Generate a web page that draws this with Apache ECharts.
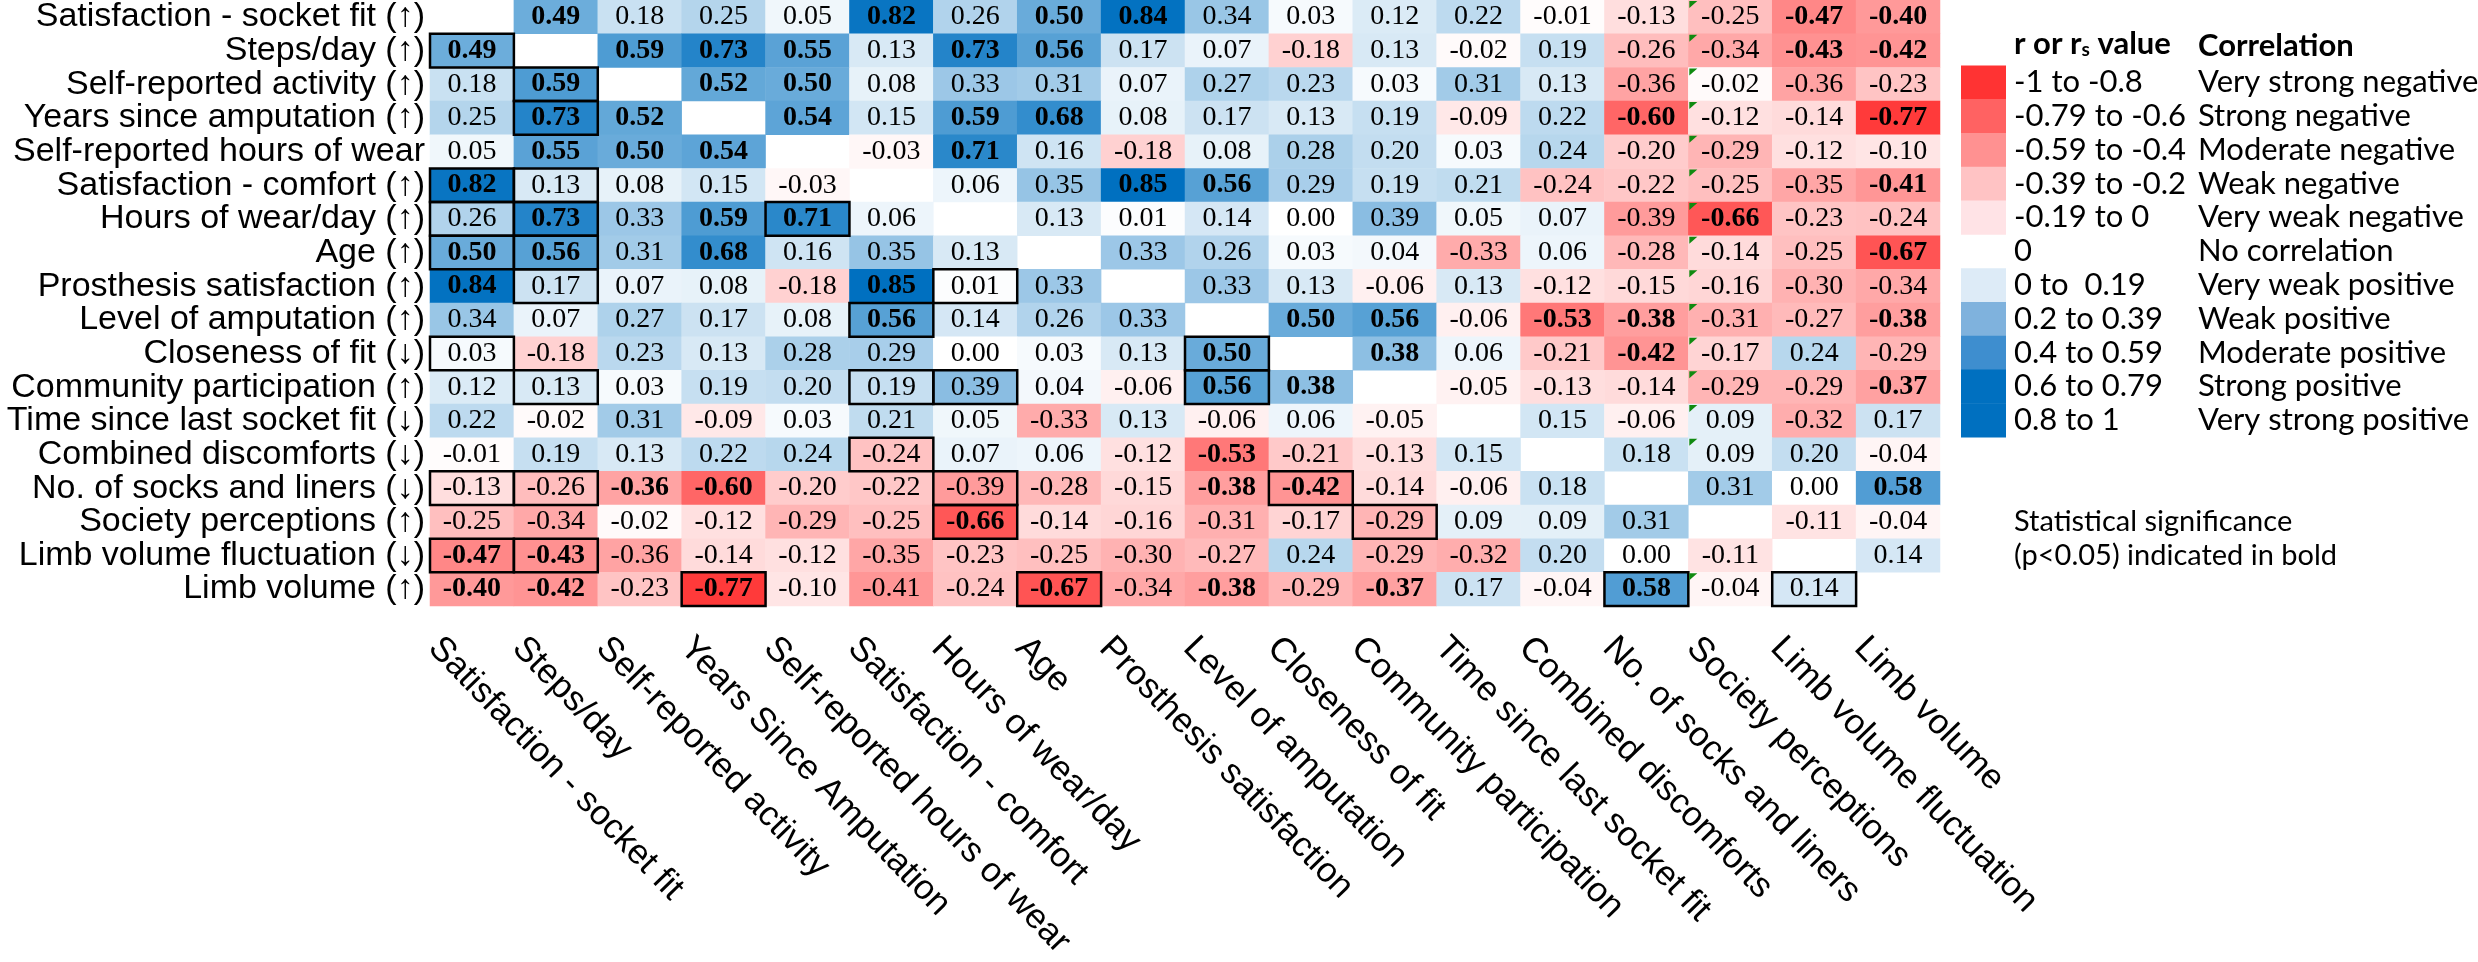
<!DOCTYPE html>
<html><head><meta charset="utf-8">
<script src="https://cdn.jsdelivr.net/npm/echarts@6/dist/echarts.min.js"></script>
<style>html,body{margin:0;padding:0;background:#fff}#chart{width:2478px;height:962px}</style>
</head><body><div id="chart"></div>
<script>
const rowLabels = [
  'Satisfaction - socket fit (↑)', 'Steps/day (↑)', 'Self-reported activity (↑)', 'Years since amputation (↑)',
  'Self-reported hours of wear', 'Satisfaction - comfort (↑)', 'Hours of wear/day (↑)', 'Age (↑)',
  'Prosthesis satisfaction (↑)', 'Level of amputation (↑)', 'Closeness of fit (↓)', 'Community participation (↑)',
  'Time since last socket fit (↓)', 'Combined discomforts (↓)', 'No. of socks and liners (↓)', 'Society perceptions (↑)',
  'Limb volume fluctuation (↓)', 'Limb volume (↑)'
];
const colLabels = [
  'Satisfaction - socket fit', 'Steps/day', 'Self-reported activity', 'Years Since Amputation',
  'Self-reported hours of wear', 'Satisfaction - comfort', 'Hours of wear/day', 'Age',
  'Prosthesis satisfaction', 'Level of amputation', 'Closeness of fit', 'Community participation',
  'Time since last socket fit', 'Combined discomforts', 'No. of socks and liners', 'Society perceptions',
  'Limb volume fluctuation', 'Limb volume'
];
const corr = [
  [null, 0.49, 0.18, 0.25, 0.05, 0.82, 0.26, 0.50, 0.84, 0.34, 0.03, 0.12, 0.22, -0.01, -0.13, -0.25, -0.47, -0.40],
  [0.49, null, 0.59, 0.73, 0.55, 0.13, 0.73, 0.56, 0.17, 0.07, -0.18, 0.13, -0.02, 0.19, -0.26, -0.34, -0.43, -0.42],
  [0.18, 0.59, null, 0.52, 0.50, 0.08, 0.33, 0.31, 0.07, 0.27, 0.23, 0.03, 0.31, 0.13, -0.36, -0.02, -0.36, -0.23],
  [0.25, 0.73, 0.52, null, 0.54, 0.15, 0.59, 0.68, 0.08, 0.17, 0.13, 0.19, -0.09, 0.22, -0.60, -0.12, -0.14, -0.77],
  [0.05, 0.55, 0.50, 0.54, null, -0.03, 0.71, 0.16, -0.18, 0.08, 0.28, 0.20, 0.03, 0.24, -0.20, -0.29, -0.12, -0.10],
  [0.82, 0.13, 0.08, 0.15, -0.03, null, 0.06, 0.35, 0.85, 0.56, 0.29, 0.19, 0.21, -0.24, -0.22, -0.25, -0.35, -0.41],
  [0.26, 0.73, 0.33, 0.59, 0.71, 0.06, null, 0.13, 0.01, 0.14, 0.00, 0.39, 0.05, 0.07, -0.39, -0.66, -0.23, -0.24],
  [0.50, 0.56, 0.31, 0.68, 0.16, 0.35, 0.13, null, 0.33, 0.26, 0.03, 0.04, -0.33, 0.06, -0.28, -0.14, -0.25, -0.67],
  [0.84, 0.17, 0.07, 0.08, -0.18, 0.85, 0.01, 0.33, null, 0.33, 0.13, -0.06, 0.13, -0.12, -0.15, -0.16, -0.30, -0.34],
  [0.34, 0.07, 0.27, 0.17, 0.08, 0.56, 0.14, 0.26, 0.33, null, 0.50, 0.56, -0.06, -0.53, -0.38, -0.31, -0.27, -0.38],
  [0.03, -0.18, 0.23, 0.13, 0.28, 0.29, 0.00, 0.03, 0.13, 0.50, null, 0.38, 0.06, -0.21, -0.42, -0.17, 0.24, -0.29],
  [0.12, 0.13, 0.03, 0.19, 0.20, 0.19, 0.39, 0.04, -0.06, 0.56, 0.38, null, -0.05, -0.13, -0.14, -0.29, -0.29, -0.37],
  [0.22, -0.02, 0.31, -0.09, 0.03, 0.21, 0.05, -0.33, 0.13, -0.06, 0.06, -0.05, null, 0.15, -0.06, 0.09, -0.32, 0.17],
  [-0.01, 0.19, 0.13, 0.22, 0.24, -0.24, 0.07, 0.06, -0.12, -0.53, -0.21, -0.13, 0.15, null, 0.18, 0.09, 0.20, -0.04],
  [-0.13, -0.26, -0.36, -0.60, -0.20, -0.22, -0.39, -0.28, -0.15, -0.38, -0.42, -0.14, -0.06, 0.18, null, 0.31, 0.00, 0.58],
  [-0.25, -0.34, -0.02, -0.12, -0.29, -0.25, -0.66, -0.14, -0.16, -0.31, -0.17, -0.29, 0.09, 0.09, 0.31, null, -0.11, -0.04],
  [-0.47, -0.43, -0.36, -0.14, -0.12, -0.35, -0.23, -0.25, -0.30, -0.27, 0.24, -0.29, -0.32, 0.20, 0.00, -0.11, null, 0.14],
  [-0.40, -0.42, -0.23, -0.77, -0.10, -0.41, -0.24, -0.67, -0.34, -0.38, -0.29, -0.37, 0.17, -0.04, 0.58, -0.04, 0.14, null]
];
// [row, col] of values printed in bold (p<0.05)
const significant = [
  [0,1],[0,5],[0,7],[0,8],[0,16],[0,17],
  [1,0],[1,2],[1,3],[1,4],[1,6],[1,7],[1,16],[1,17],
  [2,1],[2,3],[2,4],
  [3,1],[3,2],[3,4],[3,6],[3,7],[3,14],[3,17],
  [4,1],[4,2],[4,3],[4,6],
  [5,0],[5,8],[5,9],[5,17],
  [6,1],[6,3],[6,4],[6,15],
  [7,0],[7,1],[7,3],[7,17],
  [8,0],[8,5],
  [9,5],[9,10],[9,11],[9,13],[9,14],[9,17],
  [10,9],[10,11],[10,14],
  [11,9],[11,10],[11,17],
  [13,9],
  [14,2],[14,3],[14,9],[14,10],[14,17],
  [15,6],
  [16,0],[16,1],
  [17,0],[17,1],[17,3],[17,7],[17,9],[17,11],[17,14]
];
// [row, col] of outlined cells
const boxed = [
  [1,0],[2,1],[3,1],[5,0],[5,1],[6,0],[6,1],[6,4],[7,0],[7,1],[8,1],[8,6],
  [9,5],[10,0],[10,9],[11,1],[11,5],[11,6],[11,9],[13,5],
  [14,0],[14,1],[14,6],[14,10],[15,6],[15,11],[16,0],[16,1],
  [17,3],[17,7],[17,14],[17,16]
];
// [row, col] of cells carrying a small green corner mark
const flagged = [
  [0,15],[1,15],[2,15],[3,15],[4,15],[5,15],[6,15],[7,15],[8,15],[9,15],
  [10,15],[11,15],[12,15],[13,15],[17,15]
];
const legendRanges = ['-1 to -0.8', '-0.79 to -0.6', '-0.59 to -0.4', '-0.39 to -0.2', '-0.19 to 0', '0',
  '0 to  0.19', '0.2 to 0.39', '0.4 to 0.59', '0.6 to 0.79', '0.8 to 1'];
const legendNames = ['Very strong negative', 'Strong negative', 'Moderate negative', 'Weak negative',
  'Very weak negative', 'No correlation', 'Very weak positive', 'Weak positive', 'Moderate positive',
  'Strong positive', 'Very strong positive'];
const legendColors = ['#FF3333', '#FF6262', '#FF9191', '#FFC3C4', '#FFE3E6', null,
  '#DDEBF7', '#7FB2DD', '#3E8ECF', '#0070C0', '#0070C0'];

const isIn = (list, r, c) => list.some(p => p[0] === r && p[1] === c);
const heatData = [];
corr.forEach((row, r) => row.forEach((v, c) => {
  if (v === null) return;
  const item = { value: [c, r, v] };
  if (isIn(significant, r, c)) item.label = { fontWeight: 'bold' };
  heatData.push(item);
}));

const GT = -2.1, RH = 33.78, GL = 430, GW = 1510;
const chart = echarts.init(document.getElementById('chart'), null, { renderer: 'canvas' });
const cellRect = (api) => {
  const p = api.coord([api.value(0), api.value(1)]);
  const s = api.size([1, 1]);
  return { x: p[0] - s[0] / 2, y: p[1] - s[1] / 2, w: s[0], h: s[1] };
};
chart.setOption({
  animation: false,
  backgroundColor: '#fff',
  grid: [
    { left: GL, top: GT, width: GW, height: RH * 18 },
    { left: GL - 38, top: GT, width: GW, height: RH * 18 },
    { left: 1961, top: GT + 2 * RH, width: 45, height: RH * 11 }
  ],
  xAxis: [
    { type: 'category', gridIndex: 0, data: colLabels, axisLine: { show: false }, axisTick: { show: false },
      axisLabel: { show: false }, splitLine: { show: false } },
    { type: 'category', gridIndex: 1, data: colLabels, axisLine: { show: false }, axisTick: { show: false },
      axisLabel: { interval: 0, rotate: -46, margin: 62, fontSize: 35, fontFamily: 'Liberation Sans', color: '#000' } },
    { type: 'category', gridIndex: 2, data: ['k'], show: false }
  ],
  yAxis: [
    { type: 'category', gridIndex: 0, data: rowLabels, inverse: true, axisLine: { show: false }, axisTick: { show: false },
      axisLabel: { interval: 0, margin: 5, fontSize: 34, fontFamily: 'Liberation Sans', color: '#000' } },
    { type: 'category', gridIndex: 1, data: rowLabels, inverse: true, show: false },
    { type: 'category', gridIndex: 2, data: legendRanges, inverse: true, show: false }
  ],
  visualMap: {
    type: 'continuous', show: false, seriesIndex: 0, dimension: 2, min: -0.85, max: 0.85,
    inRange: { color: ['#FF2626', '#FFFFFF', '#0070C0'] }
  },
  graphic: [
    { type: 'text', left: 2014, top: 46 - 18, style: {
        text: '{b|r or r}{s|s}{b| value}', fill: '#000',
        rich: { b: { fontSize: 31, fontWeight: 'bold', fontFamily: 'Lato', lineHeight: 36 },
                s: { fontSize: 19, fontWeight: 'bold', fontFamily: 'Lato', lineHeight: 36, padding: [12, 0, 0, 0] } } } },
    { type: 'text', left: 2198, top: 46 - 18, style: { text: 'Correlation', fontSize: 31, fontWeight: 'bold', fontFamily: 'Lato', fill: '#000', lineHeight: 36 } },
    { type: 'text', left: 2014, top: GT + 15.5 * RH - 18, style: { text: 'Statistical significance', fontSize: 29, fontFamily: 'Lato', fill: '#000', lineHeight: 36 } },
    { type: 'text', left: 2014, top: GT + 16.5 * RH - 18, style: { text: '(p<0.05) indicated in bold', fontSize: 29, fontFamily: 'Lato', fill: '#000', lineHeight: 36 } }
  ],
  series: [
    {
      type: 'heatmap', xAxisIndex: 0, yAxisIndex: 0, data: heatData,
      label: { show: true, fontSize: 28, fontFamily: 'Liberation Serif', color: '#000',
        formatter: (p) => p.value[2].toFixed(2) },
      itemStyle: { borderWidth: 0 },
      emphasis: { disabled: true }
    },
    {
      type: 'custom', xAxisIndex: 0, yAxisIndex: 0, z: 5, silent: true,
      data: boxed.map(b => [b[1], b[0]]),
      renderItem: (params, api) => {
        const r = cellRect(api);
        return { type: 'rect', shape: { x: r.x, y: r.y, width: r.w, height: r.h },
          style: { fill: 'none', stroke: '#000', lineWidth: 2.5 } };
      }
    },
    {
      type: 'custom', xAxisIndex: 0, yAxisIndex: 0, z: 6, silent: true,
      data: flagged.map(b => [b[1], b[0]]),
      renderItem: (params, api) => {
        const r = cellRect(api);
        return { type: 'polygon', shape: { points: [[r.x + 1, r.y + 1], [r.x + 9, r.y + 1], [r.x + 1, r.y + 8]] },
          style: { fill: '#108A10' } };
      }
    },
    {
      type: 'custom', xAxisIndex: 2, yAxisIndex: 2, silent: true,
      data: legendRanges.map((t, i) => [0, i]),
      renderItem: (params, api) => {
        const r = cellRect(api);
        const i = params.dataIndex;
        const children = [];
        if (legendColors[i]) children.push({ type: 'rect', shape: { x: r.x, y: r.y, width: r.w, height: r.h + 0.5 }, style: { fill: legendColors[i] } });
        children.push({ type: 'text', style: { x: r.x + r.w + 8, y: r.y + r.h / 2, text: legendRanges[i], fontSize: 31, fontFamily: 'Lato', fill: '#000', verticalAlign: 'middle', align: 'left' } });
        children.push({ type: 'text', style: { x: r.x + 237, y: r.y + r.h / 2, text: legendNames[i], fontSize: 31, fontFamily: 'Lato', fill: '#000', verticalAlign: 'middle', align: 'left' } });
        return { type: 'group', children };
      }
    }
  ]
});
</script>
</body></html>
